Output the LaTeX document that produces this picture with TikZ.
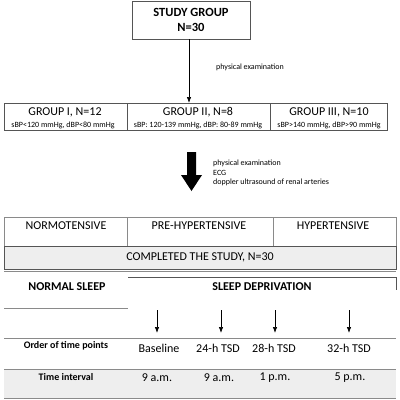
\documentclass[tikz,border=0pt]{standalone}
\usepackage{fontspec}
\setmainfont{Carlito}
\usetikzlibrary{arrows.meta}
\definecolor{bord}{HTML}{555555}
\definecolor{lgray}{HTML}{8A8A8A}
\definecolor{fillg}{HTML}{EEEEEE}
\begin{document}
\begin{tikzpicture}[x=1pt,y=-1pt,
  txt/.style={inner sep=0pt,anchor=center},
  body/.style={txt,font=\fontsize{12}{14}\selectfont},
  sub/.style={txt,font=\fontsize{8}{9}\selectfont},
  small/.style={inner sep=0pt,anchor=west,font=\fontsize{8}{9}\selectfont},
  rowlab/.style={txt,font=\fontsize{10}{12}\selectfont\bfseries},
  thinarrow/.style={-{Latex[length=6pt,width=4.5pt]},line width=0.7pt}]
\useasboundingbox (0,0) rectangle (400,400);
% Study group
\draw[line width=0.9pt,draw=bord] (132,1) rectangle (250,39);
\node[txt,font=\fontsize{12.5}{14.5}\selectfont\bfseries,align=center] (study) at (191,20) {STUDY GROUP\\N=30};
\coordinate (sbot) at (189,39);
\coordinate (gtop) at (189,103);
\draw[thinarrow] (sbot) -- (gtop);
\node[small] (pe1) at (216,67) {physical examination};
% groups
\draw[line width=0.7pt,draw=bord] (4,103) rectangle (387,130);
\draw[line width=0.7pt,draw=bord] (127,103) -- (127,130) (270,103) -- (270,130);
\node[body] (g1) at (65,112.5) {GROUP I, N=12};
\node[body] (g2) at (198,112.5) {GROUP II, N=8};
\node[body] (g3) at (329,112.5) {GROUP III, N=10};
\node[sub] (s1) at (63,125) {sBP<120 mmHg, dBP<80 mmHg};
\node[sub] (s2) at (198,125) {sBP: 120-139 mmHg, dBP: 80-89 mmHg};
\node[sub] (s3) at (329,125) {sBP>140 mmHg, dBP>90 mmHg};
% thick arrow
\fill[black] (187,152) -- (196,152) -- (196,175) -- (202,175) -- (191.5,191) -- (181,175) -- (187,175) -- cycle;
\node[small] (pe2) at (213,163.5) {physical examination};
\node[small] (ecg) at (213,173) {ECG};
\node[small] (dop) at (213,182.5) {doppler ultrasound of renal arteries};
% table
\draw[line width=0.6pt,draw=lgray] (4,217) rectangle (396,246);
\draw[line width=0.6pt,draw=lgray] (127,217) -- (127,246) (273,217) -- (273,246);
\node[body] (nt) at (66,225.5) {NORMOTENSIVE};
\node[body] (pht) at (199,225.5) {PRE-HYPERTENSIVE};
\node[body] (ht) at (333,225.5) {HYPERTENSIVE};
\draw[line width=0.8pt,draw=bord,fill=fillg] (4,246) rectangle (396,269);
\node[body] (comp) at (200,257.5) {COMPLETED THE STUDY, N=30};
% sleep table
\draw[line width=0.4pt,draw=lgray] (4,271) -- (396,271);
\draw[line width=0.7pt,draw=bord] (128,277) -- (396,277) -- (396,290);
\node[body,font=\fontsize{12}{14}\selectfont\bfseries] (ns) at (67,287) {NORMAL SLEEP};
\node[body,font=\fontsize{12}{14}\selectfont\bfseries] (sd) at (262,287) {SLEEP DEPRIVATION};
\draw[line width=0.7pt,draw=lgray] (4,308) -- (128,308);
\coordinate (a1t) at (157,310); \coordinate (a1b) at (157,333);
\coordinate (a2t) at (221,310); \coordinate (a2b) at (221,333);
\coordinate (a3t) at (275,310); \coordinate (a3b) at (275,333);
\coordinate (a4t) at (349,310); \coordinate (a4b) at (349,333);
\foreach \a in {1,2,3,4}{\draw[thinarrow] (a\a t) -- (a\a b);}
\draw[line width=0.6pt,draw=lgray] (4,338) -- (396,338);
\node[rowlab] (otp) at (66,346) {Order of time points};
\node[body] (b0) at (159,348) {Baseline};
\node[body] (b24) at (218,348) {24-h TSD};
\node[body] (b28) at (274,348) {28-h TSD};
\node[body] (b32) at (349,348) {32-h TSD};
\fill[fillg] (4,369) rectangle (396,398);
\draw[line width=0.6pt,draw=lgray] (4,369) -- (396,369) (4,398) -- (396,398);
\node[rowlab] (ti) at (66,377) {Time interval};
\node[body] (t0) at (157,378) {9 a.m.};
\node[body] (t1) at (219,378) {9 a.m.};
\node[body] (t2) at (275,378) {1 p.m.};
\node[body] (t3) at (350,378) {5 p.m.};
\end{tikzpicture}
\end{document}
